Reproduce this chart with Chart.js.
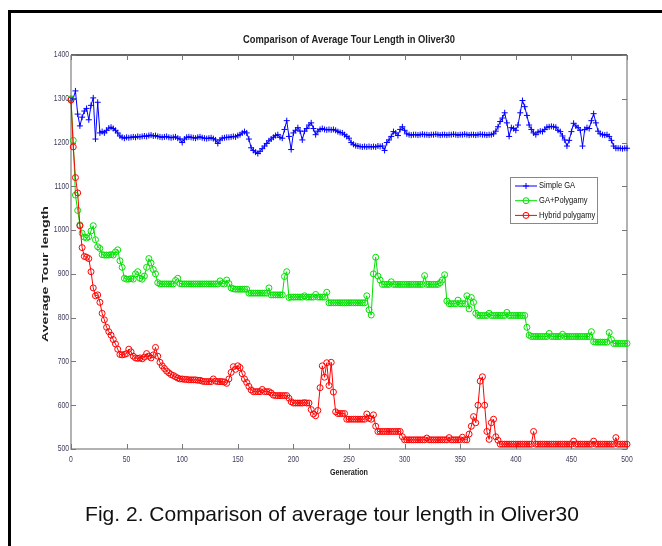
<!DOCTYPE html>
<html lang="en">
<head>
<meta charset="UTF-8">
<title>Comparison of Average Tour Length in Oliver30</title>
<script src="https://cdn.jsdelivr.net/npm/chart.js"></script>
<style>
  body { margin: 0; background: #fff; }
  #wrap { position: absolute; left: 0; top: 0; width: 662px; height: 546px; overflow: hidden; background: #fff; }
  #frame { position: absolute; left: 8px; top: 10px; width: 720px; height: 600px; border-left: 3px solid #000; border-top: 3px solid #000; }
  #chart { position: absolute; left: 0; top: 0; }
  #caption { position: absolute; left: 0; width: 664px; top: 502px; text-align: center;
             font: 21px "Liberation Sans", Arial, sans-serif; color: #111; }
</style>
</head>
<body>
<div id="wrap">
  <div id="frame"></div>
  <canvas id="chart" width="662" height="546"></canvas>
  <div id="caption">Fig. 2. Comparison of average tour length in Oliver30</div>
</div>
<script>
// generations 0..500, one sample every 2 generations
const generations = Array.from({length: 251}, (_, i) => i * 2);

const simpleGA = [
  1295,1300,1318,1265,1238,1258,1272,1278,1252,1285,
  1302,1208,1292,1222,1225,1222,1228,1233,1235,1232,
  1228,1222,1215,1212,1210,1212,1211,1212,1213,1212,
  1214,1213,1214,1215,1214,1216,1217,1215,1216,1214,
  1213,1212,1213,1214,1212,1211,1212,1213,1210,1208,
  1200,1208,1212,1213,1212,1211,1210,1212,1213,1211,
  1210,1209,1210,1211,1209,1206,1198,1206,1210,1211,
  1212,1212,1213,1214,1213,1216,1218,1222,1225,1222,
  1208,1188,1182,1178,1175,1180,1186,1192,1198,1204,
  1208,1212,1216,1218,1212,1210,1230,1250,1214,1184,
  1222,1228,1234,1226,1206,1226,1232,1240,1245,1232,
  1218,1226,1230,1232,1230,1229,1230,1229,1230,1228,
  1225,1223,1222,1218,1214,1210,1200,1196,1193,1192,
  1191,1190,1191,1190,1191,1190,1191,1190,1192,1191,
  1192,1182,1200,1206,1214,1225,1222,1216,1230,1236,
  1228,1220,1218,1217,1218,1218,1217,1218,1219,1218,
  1218,1217,1218,1218,1219,1218,1217,1218,1218,1217,
  1218,1218,1219,1218,1217,1218,1218,1219,1218,1217,
  1218,1218,1217,1218,1219,1218,1218,1217,1218,1218,
  1220,1226,1236,1248,1256,1268,1245,1214,1234,1232,
  1228,1240,1268,1296,1282,1262,1240,1230,1222,1218,
  1224,1226,1225,1230,1235,1236,1237,1236,1235,1228,
  1225,1215,1206,1192,1205,1225,1244,1238,1234,1228,
  1192,1230,1234,1232,1250,1266,1245,1226,1220,1218,
  1217,1218,1214,1205,1192,1187,1187,1187,1186,1187,
  1187
];

const gaPolygamy = [
  1300,1205,1080,1045,1012,993,984,982,985,998,
  1010,978,962,958,944,943,943,943,944,943,
  950,955,930,915,890,888,888,889,888,900,
  905,890,888,895,915,935,925,910,900,880,
  877,877,877,877,877,877,877,885,890,878,
  877,877,877,877,877,877,877,877,877,877,
  877,877,877,877,877,877,877,884,878,877,
  886,878,868,866,865,865,865,865,865,865,
  856,856,856,856,856,856,856,856,856,868,
  852,852,852,852,852,852,894,905,846,847,
  847,847,847,847,847,850,847,847,847,847,
  853,847,847,847,847,858,834,834,834,834,
  834,834,834,834,834,834,834,834,834,834,
  834,834,834,850,818,806,900,938,895,886,
  876,876,876,876,882,876,876,876,876,876,
  876,876,876,876,876,876,876,876,876,896,
  876,876,876,876,876,876,880,886,898,838,
  832,832,832,832,840,832,832,832,850,820,
  846,835,810,805,805,805,805,805,810,805,
  805,805,805,805,805,805,812,805,805,805,
  805,805,805,805,805,778,760,757,757,757,
  757,757,757,757,757,764,757,757,757,757,
  757,762,757,757,757,757,757,757,757,757,
  757,757,757,757,768,745,744,744,744,744,
  744,744,766,750,741,741,741,741,741,741,
  741
];

const hybridPolygamy = [
  1297,1190,1120,1085,1010,960,940,938,935,905,
  868,850,852,835,810,795,778,768,760,750,
  740,728,716,715,716,718,728,722,712,708,
  707,708,706,710,718,712,708,715,732,712,
  698,690,684,678,674,670,668,665,662,660,
  660,659,659,658,658,658,658,657,657,655,
  654,654,654,654,660,655,654,654,654,653,
  650,660,675,688,682,690,686,672,660,652,
  643,635,631,631,631,631,636,631,631,631,
  628,623,622,622,622,622,622,622,616,608,
  605,605,605,605,605,606,605,605,590,580,
  576,588,640,690,664,697,645,698,630,585,
  581,581,581,581,568,568,568,568,568,568,
  568,568,568,580,570,568,578,552,540,540,
  540,540,540,540,540,540,540,540,540,528,
  521,521,521,521,521,521,521,521,521,521,
  525,521,521,521,521,521,521,521,521,521,
  526,521,521,521,521,521,527,521,521,534,
  552,574,560,600,655,665,600,540,522,560,
  568,528,520,511,511,511,511,511,511,511,
  511,511,511,511,511,511,511,511,540,511,
  511,511,511,511,511,511,511,511,511,511,
  511,511,511,511,511,511,518,511,511,511,
  511,511,511,511,511,518,511,511,511,511,
  511,511,511,511,511,526,511,511,511,511,
  511
];

const seriesNames = ['Simple GA', 'GA+Polygamy', 'Hybrid polygamy'];
const seriesColors = ['#0000ff', '#00e000', '#ff0000'];
const xRange = [0, 500], xStep = 50;
const yRange = [500, 1400], yStep = 100;

const sans = '"Liberation Sans", Arial, sans-serif';

function pts(values) {
  return generations.map((g, i) => ({x: g, y: values[i]}));
}

// text squeezed horizontally, the figure uses a narrow face
function narrowText(ctx, text, x, y, font, sx, align) {
  ctx.save();
  ctx.font = font;
  ctx.textAlign = align;
  ctx.textBaseline = 'middle';
  ctx.translate(x, y);
  ctx.scale(sx, 1);
  ctx.fillText(text, 0, 0);
  ctx.restore();
}

function fitText(ctx, text, x, y, font, width) {
  ctx.save();
  ctx.font = font;
  const sx = width / ctx.measureText(text).width;
  ctx.restore();
  narrowText(ctx, text, x, y, font, sx, 'center');
}

function drawMarker(ctx, style, x, y, r) {
  ctx.beginPath();
  if (style === 'cross') {
    ctx.moveTo(x - r, y); ctx.lineTo(x + r, y);
    ctx.moveTo(x, y - r); ctx.lineTo(x, y + r);
  } else {
    ctx.arc(x, y, r, 0, Math.PI * 2);
  }
  ctx.stroke();
}

// box around the axes with inward ticks, MATLAB style
const boxPlugin = {
  id: 'box',
  beforeDatasetsDraw(chart) {
    const {ctx, chartArea: a, scales: {x, y}} = chart;
    ctx.save();
    ctx.strokeStyle = '#999';
    ctx.lineWidth = 1.5;
    ctx.beginPath();
    ctx.moveTo(a.left, a.top); ctx.lineTo(a.left, a.bottom); ctx.lineTo(a.right, a.bottom); ctx.lineTo(a.right, a.top);
    ctx.stroke();
    ctx.strokeStyle = '#666';
    ctx.lineWidth = 2;
    ctx.beginPath();
    ctx.moveTo(a.left, a.top); ctx.lineTo(a.right, a.top);
    ctx.stroke();
    ctx.strokeStyle = '#777';
    ctx.lineWidth = 1;
    ctx.beginPath();
    x.ticks.forEach(t => {
      const px = Math.round(x.getPixelForValue(t.value)) + 0.5;
      ctx.moveTo(px, a.bottom); ctx.lineTo(px, a.bottom - 5);
      ctx.moveTo(px, a.top); ctx.lineTo(px, a.top + 5);
    });
    y.ticks.forEach(t => {
      const py = Math.round(y.getPixelForValue(t.value)) + 0.5;
      ctx.moveTo(a.left, py); ctx.lineTo(a.left + 5, py);
      ctx.moveTo(a.right, py); ctx.lineTo(a.right - 5, py);
    });
    ctx.stroke();

    // tick labels
    ctx.fillStyle = '#3c3c5a';
    x.ticks.forEach(t => {
      narrowText(ctx, String(t.value), x.getPixelForValue(t.value), a.bottom + 11, '8.5px ' + sans, 0.8, 'center');
    });
    y.ticks.forEach(t => {
      narrowText(ctx, String(t.value), a.left - 2, y.getPixelForValue(t.value), '8.5px ' + sans, 0.8, 'right');
    });
    ctx.restore();
  },
  afterDraw(chart) {
    const {ctx, chartArea: a} = chart;
    ctx.save();
    ctx.fillStyle = '#222';
    fitText(ctx, 'Comparison of Average Tour Length in Oliver30', (a.left + a.right) / 2, 40, 'bold 10px ' + sans, 212);
    fitText(ctx, 'Generation', (a.left + a.right) / 2, 473, 'bold 9px ' + sans, 38);
    // y title
    ctx.translate(45, 274);
    ctx.rotate(-Math.PI / 2);
    fitText(ctx, 'Average Tour length', 0, 0, 'bold 9.5px ' + sans, 136);
    ctx.restore();

    // legend
    ctx.save();
    const lx = 510, ly = 177, lw = 87, lh = 46;
    ctx.fillStyle = '#fff';
    ctx.fillRect(lx, ly, lw, lh);
    ctx.strokeStyle = '#888';
    ctx.lineWidth = 1;
    ctx.strokeRect(lx + 0.5, ly + 0.5, lw, lh);
    chart.data.datasets.forEach((ds, i) => {
      const ry = 186 + i * 14.7;
      ctx.strokeStyle = ds.borderColor;
      ctx.lineWidth = 1;
      ctx.beginPath();
      ctx.moveTo(515, ry); ctx.lineTo(537, ry);
      ctx.stroke();
      drawMarker(ctx, ds.pointStyle, 526, ry, 3);
      ctx.fillStyle = '#111';
      narrowText(ctx, ds.label, 539, ry, '9px ' + sans, 0.84, 'left');
    });
    ctx.restore();
  }
};

const datasets = [simpleGA, gaPolygamy, hybridPolygamy].map((vals, i) => ({
  label: seriesNames[i],
  data: pts(vals),
  borderColor: seriesColors[i],
  backgroundColor: seriesColors[i],
  pointBorderColor: seriesColors[i],
  pointBackgroundColor: 'rgba(0,0,0,0)',
  pointStyle: i === 0 ? 'cross' : 'circle',
  pointRadius: 3,
  pointBorderWidth: 1,
  borderWidth: 1,
  tension: 0,
  clip: 6,
  order: 2 - i
}));

new Chart(document.getElementById('chart'), {
  type: 'line',
  data: { datasets: datasets },
  options: {
    responsive: false,
    animation: false,
    events: [],
    layout: { padding: { left: 0, top: 55, right: 35, bottom: 0 } },
    plugins: { legend: { display: false }, tooltip: { enabled: false }, title: { display: false } },
    scales: {
      x: {
        type: 'linear',
        min: xRange[0], max: xRange[1],
        grid: { display: false },
        border: { display: false },
        ticks: { stepSize: xStep, display: false },
        afterFit: s => { s.height = 97; }
      },
      y: {
        type: 'linear',
        min: yRange[0], max: yRange[1],
        grid: { display: false },
        border: { display: false },
        ticks: { stepSize: yStep, display: false },
        afterFit: s => { s.width = 71; }
      }
    }
  },
  plugins: [boxPlugin]
});
</script>
</body>
</html>
